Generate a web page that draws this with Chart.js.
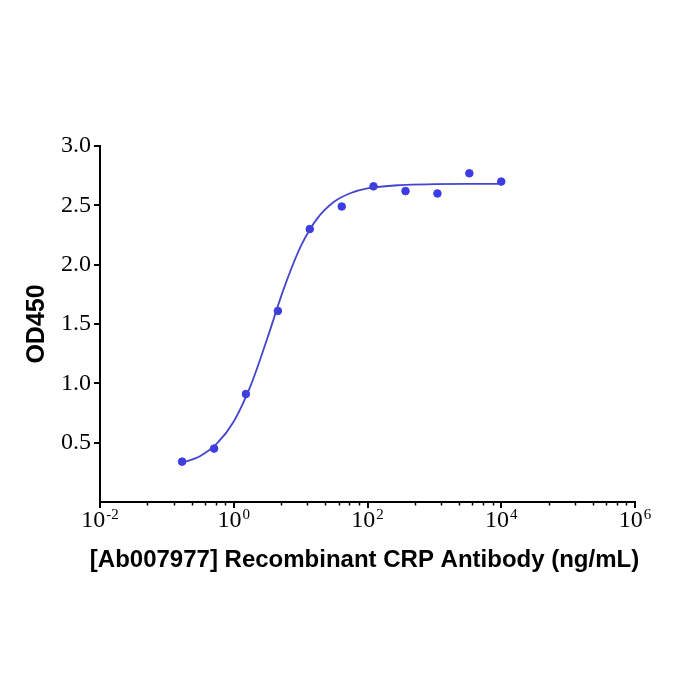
<!DOCTYPE html>
<html>
<head>
<meta charset="utf-8">
<script src="https://cdn.jsdelivr.net/npm/chart.js@4.4.1/dist/chart.umd.min.js"></script>
<style>
  html, body { margin: 0; padding: 0; background: #fff; }
  #wrap { width: 700px; height: 700px; }
</style>
</head>
<body>
<div id="wrap"><canvas id="odChart" width="700" height="700"></canvas></div>
<script>
// concentrations (ng/mL), 3-fold dilutions
const concentrations = [0.169, 0.508, 1.52, 4.57, 13.7, 41.2, 123, 370, 1111, 3333, 10000];
const odValues = [0.34, 0.45, 0.91, 1.61, 2.30, 2.49, 2.66, 2.62, 2.60, 2.77, 2.70];

// fitted curve
const curveX = [0.166, 0.316, 0.562, 1, 1.778, 3.162, 5.623, 10, 17.78, 31.62, 56.23, 100, 316.2, 1000, 3162, 10000];
const curveY = [0.33, 0.388, 0.493, 0.679, 0.977, 1.376, 1.80, 2.152, 2.39, 2.53, 2.604, 2.643, 2.671, 2.678, 2.68, 2.68];

// axes
const xTickExps = [-2, 0, 2, 4, 6];
const xMinorOffsets = [0.71, 1.10, 1.37, 1.57, 1.73, 1.87];
const yTickLabels = ['0.5', '1.0', '1.5', '2.0', '2.5', '3.0'];

const xTitle = '[Ab007977] Recombinant CRP Antibody (ng/mL)';
const yTitle = 'OD450';

const serif = '"Liberation Serif", "Times New Roman", serif';
const sans = '"Liberation Sans", Arial, sans-serif';

// x axis: minor ticks, 10^n labels with a real superscript, and the title
// (the title is drawn here so Chart.js does not squeeze it to the axis width)
const xAxisExtras = {
    id: 'xAxisExtras',
    afterDraw(chart) {
        const ctx = chart.ctx;
        const xs = chart.scales.x;
        const bottom = chart.chartArea.bottom;
        ctx.save();
        ctx.fillStyle = '#000';
        ctx.strokeStyle = '#000';
        ctx.textBaseline = 'alphabetic';
        ctx.textAlign = 'left';

        // minor ticks
        ctx.lineWidth = 1.5;
        xTickExps.slice(0, -1).forEach(e => {
            xMinorOffsets.forEach(o => {
                const px = Math.round(xs.getPixelForValue(Math.pow(10, e + o))) + 0.5;
                ctx.beginPath();
                ctx.moveTo(px, bottom);
                ctx.lineTo(px, bottom + 3.5);
                ctx.stroke();
            });
        });

        xTickExps.forEach(e => {
            const px = xs.getPixelForValue(Math.pow(10, e));
            const sup = e < 0 ? '-' + Math.abs(e) : String(e);
            ctx.font = '24px ' + serif;
            const wBase = ctx.measureText('10').width;
            ctx.font = '15px ' + serif;
            const wSup = ctx.measureText(sup).width;
            const start = px - (wBase + wSup + 1) / 2;
            ctx.font = '24px ' + serif;
            ctx.fillText('10', start, bottom + 25);
            ctx.font = '15px ' + serif;
            ctx.fillText(sup, start + wBase + 1, bottom + 17);
        });

        ctx.font = 'bold 24px ' + sans;
        ctx.textAlign = 'center';
        ctx.fillText(xTitle, (xs.left + xs.right) / 2 - 3, bottom + 65);
        ctx.restore();
    }
};

const ctx = document.getElementById('odChart').getContext('2d');
new Chart(ctx, {
    type: 'scatter',
    data: {
        datasets: [{
            label: 'fit',
            data: curveX.map((x, i) => ({ x: x, y: curveY[i] })),
            showLine: true,
            borderColor: '#4545cf',
            borderWidth: 1.8,
            pointRadius: 0,
            cubicInterpolationMode: 'monotone',
            fill: false
        }, {
            label: 'OD450',
            data: concentrations.map((x, i) => ({ x: x, y: odValues[i] })),
            backgroundColor: '#3c3ce6',
            borderColor: '#3c3ce6',
            pointRadius: 3.8,
            showLine: false
        }]
    },
    options: {
        responsive: false,
        animation: false,
        layout: { padding: { top: 146, left: 22, right: 65, bottom: 124 } },
        plugins: {
            legend: { display: false },
            tooltip: { enabled: false }
        },
        scales: {
            x: {
                type: 'logarithmic',
                min: 0.01,
                max: 1e6,
                afterBuildTicks: function(scale) {
                    scale.ticks = xTickExps.map(e => ({ value: Math.pow(10, e) }));
                },
                afterFit: function(scale) { scale.height = 74; },
                ticks: { display: false },
                grid: {
                    drawOnChartArea: false,
                    drawTicks: true,
                    tickLength: 6,
                    color: '#000',
                    lineWidth: 2
                },
                border: { display: true, color: '#000', width: 2 },
                title: { display: false }
            },
            y: {
                min: 0,
                max: 3,
                afterBuildTicks: function(scale) {
                    scale.ticks = yTickLabels.map(t => ({ value: parseFloat(t) }));
                },
                afterFit: function(scale) { scale.width = 78; },
                ticks: {
                    color: '#000',
                    padding: 3,
                    font: { family: serif, size: 24 },
                    callback: function(value) { return value.toFixed(1); }
                },
                grid: {
                    drawOnChartArea: false,
                    drawTicks: true,
                    tickLength: 6,
                    color: '#000',
                    lineWidth: 2
                },
                border: { display: true, color: '#000', width: 2 },
                title: {
                    display: true,
                    text: yTitle,
                    color: '#000',
                    padding: 0,
                    font: { family: sans, size: 25, weight: 'bold' }
                }
            }
        }
    },
    plugins: [xAxisExtras]
});
</script>
</body>
</html>
